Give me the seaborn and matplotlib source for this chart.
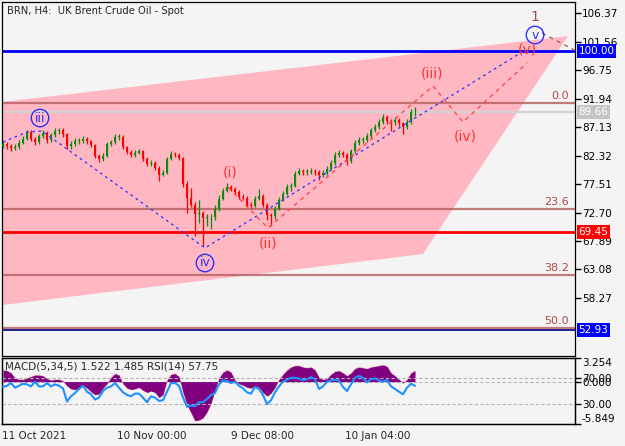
import numpy as np
import pandas as pd
import seaborn as sns
import matplotlib.pyplot as plt
import matplotlib.transforms as mtransforms
from matplotlib.patches import Polygon

# ================== data ==================
first_open = 84.00
closes = [84.26, 83.92, 83.59, 83.76, 84.43, 85.10, 86.27, 85.10, 84.59, 85.60,
          86.10, 84.93, 85.77, 86.44, 86.60, 85.93, 83.92, 84.26, 84.76, 84.76,
          85.10, 84.76, 84.09, 82.25, 81.75, 82.25, 84.26, 84.59, 85.43, 85.43,
          83.76, 82.92, 82.42, 82.75, 83.09, 81.75, 80.91, 81.08, 80.24, 79.07,
          79.40, 81.75, 82.58, 82.42, 81.91, 77.56, 75.21, 74.04, 72.37, 72.70,
          71.70, 71.86, 71.86, 73.37, 75.05, 76.39, 77.06, 76.72, 76.22, 75.38,
          75.21, 74.04, 73.87, 75.05, 75.55, 74.04, 72.20, 72.03, 73.37, 74.88,
          75.88, 77.06, 77.22, 79.23, 79.74, 79.57, 79.57, 79.74, 79.57, 79.07,
          79.40, 80.07, 81.08, 82.42, 82.75, 82.42, 81.41, 83.09, 84.43, 84.93,
          84.93, 85.60, 86.60, 87.11, 87.94, 88.78, 88.11, 87.94, 88.28, 87.78,
          87.11, 87.94, 89.62, 89.66]
highs = [84.7, 84.6, 84.2, 84.2, 84.9, 85.6, 86.7, 86.6, 85.4, 86.0,
         86.6, 86.4, 86.2, 86.9, 87.0, 86.9, 86.2, 84.7, 85.2, 85.3,
         85.6, 85.5, 85.0, 84.3, 82.6, 82.7, 84.6, 85.0, 86.0, 85.9,
         85.7, 84.0, 83.2, 83.2, 83.5, 83.3, 82.0, 81.5, 81.4, 80.5,
         79.9, 82.0, 83.0, 82.9, 82.7, 82.1, 78.0, 76.8, 74.5, 74.8,
         73.0, 72.5, 72.5, 74.0, 75.6, 76.8, 77.6, 77.4, 77.0, 76.5,
         75.8, 75.5, 74.4, 75.5, 76.6, 75.8, 74.3, 72.6, 73.8, 75.3,
         76.3, 77.5, 77.7, 79.7, 80.2, 80.1, 80.0, 80.2, 80.1, 79.9,
         79.9, 80.5, 81.5, 82.9, 83.2, 83.1, 82.7, 83.5, 84.9, 85.4,
         85.4, 86.1, 87.0, 87.6, 88.4, 89.3, 89.1, 88.5, 88.8, 88.6,
         88.0, 88.4, 90.1, 90.5]
lows = [83.6, 83.4, 83.0, 83.2, 83.5, 84.2, 84.9, 84.7, 84.1, 84.3,
        85.3, 84.5, 84.6, 85.5, 86.0, 85.5, 83.5, 83.5, 84.0, 84.3,
        84.5, 84.3, 83.7, 81.9, 81.3, 81.4, 82.0, 84.0, 84.3, 85.0,
        83.4, 82.5, 82.0, 82.1, 82.5, 81.4, 80.5, 80.5, 79.8, 78.1,
        78.8, 79.2, 81.5, 82.1, 81.5, 77.0, 72.6, 73.6, 68.7, 71.0,
        67.0, 70.5, 70.0, 71.5, 73.0, 74.8, 76.1, 76.3, 75.8, 75.0,
        74.8, 73.6, 73.4, 73.6, 74.8, 73.6, 71.5, 70.4, 71.6, 73.1,
        74.6, 75.6, 76.4, 77.0, 79.0, 79.1, 79.1, 79.2, 79.1, 78.2,
        78.7, 79.1, 79.8, 80.8, 82.1, 82.0, 80.8, 81.1, 82.8, 84.1,
        84.5, 84.6, 85.3, 86.3, 86.8, 87.6, 87.7, 86.5, 87.5, 87.3,
        85.9, 86.8, 87.6, 89.0]
macd = [1.6, 1.5, 1.2, 0.5, 0.3, 0.3, 0.5, 0.7, 0.9, 0.9,
        0.8, 0.4, 0.2, 0.3, 0.3, 0.1, -0.6, -1.0, -1.1, -0.9,
        -0.5, -0.9, -1.4, -1.8, -1.7, -0.9, -0.3, 0.6, 1.1, 0.9,
        -0.3, -0.9, -1.1, -1.0, -0.8, -1.2, -1.5, -1.3, -1.5, -2.2,
        -1.8, 0.2, 1.0, 1.1, 0.7, -1.5, -3.2, -4.3, -5.4, -5.3,
        -5.0, -4.2, -3.0, -1.2, 0.5, 1.3, 1.6, 1.3, 0.2, -0.3,
        -0.5, -0.8, -0.9, -0.6, -0.8, -1.5, -2.0, -1.6, -0.8, 0.3,
        1.0, 1.6, 2.0, 2.2, 2.2, 2.0, 1.9, 2.0, 1.6, 0.6,
        0.3, 0.4, 1.0, 1.4, 1.5, 1.2, 0.8, 1.2, 1.8, 2.0,
        1.9, 1.8, 2.0, 2.1, 2.2, 2.3, 2.1, 1.2, 0.8, 0.3,
        -0.2, 0.3, 1.2, 1.522]
rsi = [56, 58, 62, 55, 58, 61, 60, 57, 64, 57,
       57, 62, 57, 60, 58, 54, 34, 42, 47, 53,
       58, 49, 45, 37, 40, 50, 55, 57, 62, 55,
       48, 44, 42, 46, 46, 40, 33, 42, 40, 35,
       36, 49, 62, 62, 58, 40, 26, 28, 27, 33,
       33, 38, 44, 47, 60, 66, 65, 62, 64, 58,
       54, 48, 46, 56, 53, 44, 30, 36, 48, 57,
       64, 67, 70, 70, 69, 66, 68, 71, 68, 53,
       57, 64, 66, 67, 66, 56, 50, 60, 70, 73,
       70, 63, 68, 69, 66, 64, 67, 57, 53, 49,
       45, 55, 61, 57.75]

price_ticks = [106.37, 101.56, 96.75, 91.94, 87.13, 82.32, 77.51, 72.70, 67.89, 63.08, 58.27]
date_pos = [-0.25, 28.5, 57.0, 85.5]
date_labels = ["11 Oct 2021", "10 Nov 00:00", "9 Dec 08:00", "10 Jan 04:00"]

fib_labels = ["0.0", "23.6", "38.2", "50.0"]
fib_prices = [91.18, 73.25, 62.16, 53.20]

channel_x = [-0.25, 141.25, 105.0, -0.25]
channel_y = [91.35, 102.49, 65.69, 57.09]

minor_x = [0, 6, 9.75, 50.5, 130.75]
minor_y = [84.60, 86.29, 86.45, 66.71, 100.2]
sub_x = [56.25, 66.25, 107.5, 115.0, 131.0]
sub_y = [77.0, 70.08, 94.05, 87.97, 97.93]
next_x = [134.75, 144.25]
next_y = [102.99, 99.62]

circ_labels = ["iii", "iv", "v"]
circ_x = [9.25, 50.5, 133.0]
circ_y = [88.65, 64.18, 102.66]
paren_labels = ["(i)", "(ii)", "(iii)", "(iv)", "(v)"]
paren_x = [56.75, 66.25, 107.25, 115.5, 131.0]
paren_y = [79.53, 67.55, 96.24, 85.61, 100.13]

# ================== style ==================
sns.set_style("white")
plt.rcParams['font.family'] = ['DejaVu Sans']
BG = '#f4f4f4'

fig = plt.figure(figsize=(6.25, 4.46), dpi=100, facecolor=BG)
W, H = 625, 446
ax = fig.add_axes([2 / W, 1 - 356 / H, 573 / W, 354 / H], facecolor=BG)
axm = fig.add_axes([2 / W, 1 - 424 / H, 573 / W, 66 / H], facecolor=BG)

XMAX = 143.0
ax.set_xlim(-0.25, XMAX)
ax.set_ylim(48.48, 108.23)

# channel
ax.add_patch(Polygon(list(zip(channel_x, channel_y)), closed=True,
                     fc='#ffb7c2', ec='none', zorder=0.5))

# horizontal levels
for p in fib_prices:
    ax.axhline(p, color='#b86565', lw=1.6, alpha=0.85, zorder=1)
ax.axhline(89.66, color='#d2d2d2', lw=1.6, zorder=1)
ax.axhline(100.00, color='#0000ff', lw=2, zorder=2)
ax.axhline(69.45, color='#ff0000', lw=2, zorder=2)
ax.axhline(52.93, color='#000080', lw=1.2, zorder=2)

for lab, p in zip(fib_labels, fib_prices):
    ax.text(141.5, p + 0.35, lab, ha='right', va='bottom', color='#b04848', fontsize=8)

# candles
n = len(closes)
idx = np.arange(n)
opens = [first_open] + closes[:-1]
df = pd.DataFrame({"idx": idx, "open": opens, "close": closes, "high": highs, "low": lows})
up = df["close"] >= df["open"]
cols = np.where(up, '#0c8a0c', '#ff0000')
body_lo = np.minimum(df["open"], df["close"])
body_h = np.maximum((df["close"] - df["open"]).abs(), 0.12)
ax.vlines(df["idx"], df["low"], df["high"], colors=cols, lw=0.9, zorder=4)
ax.bar(df["idx"], body_h, bottom=body_lo, width=0.7, color=cols, lw=0, zorder=5)

# wave lines
sns.lineplot(x=minor_x, y=minor_y, ax=ax, color='#3c3cff', lw=1,
             linestyle=(0, (2, 2.5)), sort=False, zorder=6)
sns.lineplot(x=sub_x, y=sub_y, ax=ax, color='#ff4a4a', lw=1,
             linestyle=(0, (3, 3)), sort=False, zorder=6)
sns.lineplot(x=next_x, y=next_y, ax=ax, color='#b06060', lw=1,
             linestyle=(0, (3, 3)), sort=False, zorder=6)

for lab, x, y in zip(circ_labels, circ_x, circ_y):
    ax.text(x, y, lab, ha='center', va='center', color='#3030ff', fontsize=9, zorder=7,
            bbox=dict(boxstyle='circle,pad=0.18', fc='none', ec='#3030ff', lw=1))
for lab, x, y in zip(paren_labels, paren_x, paren_y):
    ax.text(x, y, lab, ha='center', va='center', color='#ff3030', fontsize=10, zorder=7)
ax.text(133.0, 105.69, "1", ha='center', va='center', color='#a04c4c', fontsize=10, zorder=7)

# axes styling (main)
ax.yaxis.tick_right()
ax.set_yticks(price_ticks)
ax.set_yticklabels([f"{v:.2f}" for v in price_ticks])
ax.tick_params(axis='y', length=4, width=1, direction='out', pad=1, labelsize=7.5, colors='black')
ax.set_xticks([])
for s in ax.spines.values():
    s.set_color('black')
    s.set_linewidth(0.9)

trans = mtransforms.blended_transform_factory(ax.transAxes, ax.transData)
for val, fc in [(100.00, '#0000ff'), (89.66, '#c4c4c4'), (69.45, '#ff0000'), (52.93, '#0000ff')]:
    ax.text(1.006, val, f"{val:.2f}", transform=trans, ha='left', va='center', color='white',
            fontsize=7.5, clip_on=False, zorder=10,
            bbox=dict(boxstyle='square,pad=0.18', fc=fc, ec='none'))

fig.text(7 / W, 1 - 11 / H, "BRN, H4:  UK Brent Crude Oil - Spot", fontsize=7.2, va='center')

# ================== MACD / RSI panel ==================
axm.set_xlim(-0.25, XMAX)
axm.set_ylim(-5.849, 3.254)
axm.fill_between(idx, 0, macd, color='#800080', lw=0, zorder=2)
sns.lineplot(x=idx, y=macd, ax=axm, color='#ff2020', lw=0.6, alpha=0.5,
             linestyle=(0, (1, 2)), zorder=3)
axm.axhline(0, color='#b4b4b4', lw=0.8, ls=(0, (3, 2)), zorder=1)
axm.set_ylabel("")

axr = axm.twinx()
axr.set_ylim(0, 100)
axr.axhline(70, color='#b4b4b4', lw=0.8, ls=(0, (3, 2)), zorder=1)
axr.axhline(30, color='#b4b4b4', lw=0.8, ls=(0, (3, 2)), zorder=1)
sns.lineplot(x=idx, y=rsi, ax=axr, color='#1e90ff', lw=1.5, zorder=4)
axr.set_ylabel("")

axm.yaxis.tick_right()
axm.set_yticks([3.254, 0.0, -5.849])
axm.set_yticklabels(["3.254", "0.000", "-5.849"])
tl = axm.get_yticklabels()
tl[0].set_va('top')
tl[2].set_va('bottom')
axr.set_yticks([70, 30])
axr.set_yticklabels(["70.00", "30.00"])
for a in (axm, axr):
    a.tick_params(axis='y', length=4, width=1, direction='out', pad=1, labelsize=7.5, colors='black')
    for s in a.spines.values():
        s.set_color('black')
        s.set_linewidth(0.9)

axm.set_xlim(-0.25, XMAX)
axm.set_xticks(date_pos)
axm.set_xticklabels(date_labels, ha='left')
axm.tick_params(axis='x', length=3, width=1, direction='out', pad=2, labelsize=7.5)

axm.text(0.005, 0.87, "MACD(5,34,5) 1.522 1.485 RSI(14) 57.75", transform=axm.transAxes,
         fontsize=7.5, va='center', ha='left', zorder=10)

fig.savefig("out.png", dpi=100, facecolor=BG)
